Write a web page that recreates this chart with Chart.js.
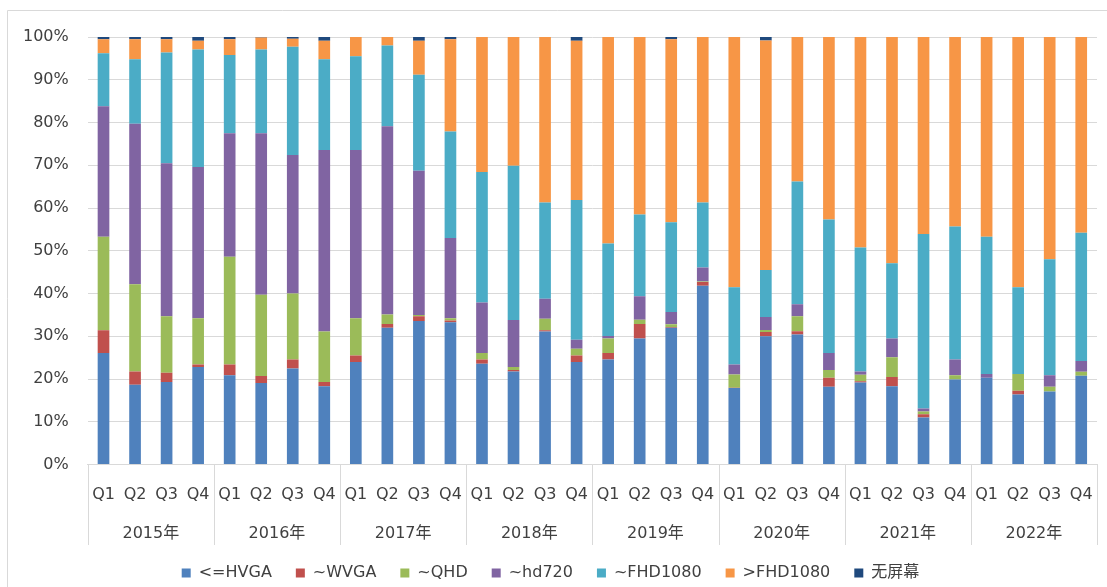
<!DOCTYPE html>
<html>
<head>
<meta charset="utf-8">
<script src="https://cdn.jsdelivr.net/npm/chart.js@4/dist/chart.umd.min.js"></script>
<style>
html,body{margin:0;padding:0;background:#fff;}
#wrap{width:1107px;height:587px;position:relative;}
</style>
</head>
<body>
<div id="wrap"><canvas id="c" width="1107" height="587"></canvas></div>
<script>
const years = ["2015年","2016年","2017年","2018年","2019年","2020年","2021年","2022年"];
const quarters = ["Q1","Q2","Q3","Q4"];
const seriesNames = ["<=HVGA","~WVGA","~QHD","~hd720","~FHD1080",">FHD1080","无屏幕"];

const hvga   = [26.1,18.7,19.3,22.8, 20.9,19.1,22.5,18.3, 24.0,32.0,33.6,33.3, 23.6,21.8,31.1,24.0, 24.6,29.5,32.0,41.8, 17.9,30.0,30.4,18.2, 19.2,18.3,11.0,19.9, 20.3,16.4,17.1,20.8];
const wvga   = [5.3,3.1,2.2,0.6, 2.5,1.6,2.1,1.0, 1.5,0.9,1.1,0.4, 1.0,0.3,0.3,1.5, 1.5,3.4,0.2,0.9, 0.1,1.0,0.8,2.1, 0.3,2.2,0.8,0, 0,0.9,0,0];
const qhd    = [21.9,20.4,13.2,10.8, 25.2,19.0,15.4,11.8, 8.7,2.2,0.3,0.5, 1.5,0.7,2.7,1.6, 3.4,1.0,0.6,0.1, 3.1,0.5,3.5,1.8, 1.5,4.6,0.6,1.0, 0,3.9,1.1,0.9];
const hd720  = [30.5,37.5,35.8,35.4, 28.9,37.8,32.4,42.5, 39.4,44.0,33.7,18.8, 11.8,11.0,4.7,2.1, 0.6,5.5,2.9,3.3, 2.3,3.0,2.8,4.0, 0.8,4.4,0.7,3.7, 0.9,0,2.7,2.5];
const fhd    = [12.4,15.1,25.9,27.5, 18.3,19.6,25.3,21.2, 21.9,18.9,22.5,24.9, 30.5,36.1,22.5,32.7, 21.6,19.1,21.0,15.2, 18.1,11.0,28.7,31.2, 29.0,17.6,40.8,31.1, 32.1,20.3,27.1,30.0];
const gtFhd  = [3.3,4.7,3.1,2.0, 3.7,2.8,1.9,4.3, 4.5,2.0,7.9,21.6, 31.6,30.1,38.7,37.2, 48.3,41.5,42.8,38.7, 58.5,53.7,33.8,42.7, 49.2,52.9,46.1,44.3, 46.7,58.5,52.0,45.8];
const noScreen=[0.5,0.5,0.5,0.9, 0.5,0.1,0.4,0.9, 0,0,0.9,0.5, 0,0,0,0.9, 0,0,0.5,0, 0,0.8,0,0, 0,0,0,0, 0,0,0,0];
const yTicks = [0,10,20,30,40,50,60,70,80,90,100];

const colors = ["#4F81BD","#C0504D","#9BBB59","#8064A2","#4BACC6","#F79646","#1F497D"];
const values = [hvga,wvga,qhd,hd720,fhd,gtFhd,noScreen];

const labels = [];
years.forEach(()=>quarters.forEach(q=>labels.push(q)));

const FONT = '"DejaVu Sans","Noto Sans CJK SC",sans-serif';
const TXT = '#404040';
const GRID = '#d9d9d9';
const FS = 16;

const sepPlugin = {
  id:'sep',
  afterDraw(chart){
    const xs = chart.scales.x, x2 = chart.scales.x2;
    const ctx = chart.ctx;
    ctx.save();
    ctx.strokeStyle = GRID;
    ctx.lineWidth = 1;
    const n = years.length;
    for(let i=0;i<=n;i++){
      const px = Math.round(xs.left + i*(xs.right-xs.left)/n)+0.5;
      ctx.beginPath();
      ctx.moveTo(px, chart.chartArea.bottom);
      ctx.lineTo(px, x2.bottom + 4);
      ctx.stroke();
    }
    ctx.beginPath();
    ctx.moveTo(7.5, 587); ctx.lineTo(7.5, 10.5); ctx.lineTo(1107, 10.5);
    ctx.stroke();
    ctx.restore();
  }
};

new Chart(document.getElementById('c'),{
  type:'bar',
  data:{
    labels: labels,
    datasets: seriesNames.map((n,i)=>({
      label:n, data: values[i], backgroundColor: colors[i],
      borderWidth:0, barPercentage:0.37, categoryPercentage:1.0, xAxisID:'x', yAxisID:'y'
    }))
  },
  options:{
    responsive:false, animation:false,
    layout:{padding:{left:4,right:10,top:37,bottom:-4}},
    plugins:{
      legend:{position:'bottom', labels:{boxWidth:9,boxHeight:9,padding:24,color:TXT,font:{family:FONT,size:FS}}},
      tooltip:{enabled:false}
    },
    scales:{
      x:{stacked:true, grid:{display:false}, border:{display:true,color:GRID},
         ticks:{color:TXT,font:{family:FONT,size:FS},padding:13,maxRotation:0,autoSkip:false}},
      x2:{type:'category', labels: years, position:'bottom', offset:true,
          grid:{display:false}, border:{display:false},
          ticks:{color:TXT,font:{family:FONT,size:FS},padding:-2,maxRotation:0}},
      y:{stacked:true, min:0, max:100, afterBuildTicks(s){ s.ticks = yTicks.map(v=>({value:v})); },
         grid:{color:GRID, drawTicks:false}, border:{display:false},
         ticks:{color:TXT,font:{family:FONT,size:FS},padding:19,callback:v=>v+'%'}}
    }
  },
  plugins:[sepPlugin]
});
</script>
</body>
</html>
